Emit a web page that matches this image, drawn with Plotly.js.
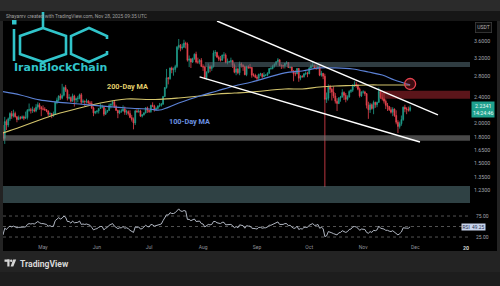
<!DOCTYPE html>
<html><head><meta charset="utf-8">
<script src="https://cdn.plot.ly/plotly-3.0.1.min.js"></script>
<style>html,body{margin:0;padding:0;background:#232323;overflow:hidden}#chart{width:500px;height:286px}</style>
</head><body><div id="chart"></div>
<script>
// ---------- DATA (XRP/USDT daily) ----------
const startDate = '2025-04-07';
const open = [
 1.75,1.87,1.79,2.02,1.97,2.06,2.14,2.10,2.14,2.09,2.05,2.08,2.07,2.09,2.07,2.08,2.19,2.20,2.19,2.20,2.18,2.24,2.28,2.24,
 2.21,2.21,2.20,2.18,2.13,2.14,2.11,2.13,2.32,2.36,2.43,2.39,2.44,2.58,2.53,2.39,2.40,2.34,2.43,2.36,2.38,2.39,2.45,2.32,2.34,2.33,2.34,2.31,2.30,2.23,2.15,
 2.17,2.18,2.22,2.24,2.24,2.13,2.17,2.19,2.27,2.29,2.33,2.25,2.19,2.15,2.18,2.18,2.21,2.16,2.17,2.14,2.08,2.05,2.00,2.18,2.17,2.18,2.10,2.12,2.15,2.23,
 2.19,2.17,2.27,2.26,2.21,2.22,2.26,2.27,2.29,2.42,2.58,2.77,2.75,2.97,2.93,2.94,3.00,3.45,3.50,3.43,3.45,3.55,3.53,3.14,3.17,3.10,3.18,3.28,3.10,3.10,3.14,
 3.00,2.99,2.77,2.88,3.00,2.96,3.00,3.31,3.32,3.21,3.17,3.14,3.26,3.26,3.09,3.10,3.11,3.13,3.03,2.88,2.95,2.87,3.06,3.03,3.00,2.83,3.00,2.98,2.98,2.82,2.82,
 2.78,2.76,2.84,2.85,2.79,2.82,2.82,2.86,2.96,2.96,3.01,3.05,3.11,3.15,3.02,3.02,3.02,3.07,3.09,2.98,2.99,2.91,2.85,2.85,2.96,2.76,2.80,2.79,2.85,2.86,
 2.85,2.97,3.02,3.03,2.97,2.96,3.00,2.82,2.86,2.80,2.37,2.39,2.59,2.55,2.50,2.43,2.34,2.30,2.39,2.41,2.49,2.44,2.37,2.41,2.51,2.53,2.63,2.64,2.62,2.55,2.43,
 2.50,2.50,2.47,2.27,2.20,2.28,2.22,2.32,2.28,2.32,2.51,2.40,2.38,2.34,2.27,2.25,2.20,2.16,2.21,2.11,2.01,1.95,1.99,2.05,2.24,2.21,2.21,2.19
];
const high = [
 1.93,1.97,2.09,2.05,2.08,2.16,2.18,2.20,2.17,2.10,2.11,2.10,2.11,2.11,2.17,2.21,2.30,2.23,2.25,2.23,2.29,2.32,2.31,2.26,
 2.27,2.24,2.21,2.19,2.16,2.15,2.17,2.33,2.40,2.44,2.47,2.65,2.60,2.63,2.55,2.46,2.42,2.47,2.45,2.40,2.43,2.47,2.48,2.37,2.35,2.38,2.36,2.34,2.34,2.25,2.18,
 2.19,2.22,2.30,2.28,2.26,2.22,2.19,2.30,2.30,2.35,2.34,2.28,2.20,2.20,2.21,2.27,2.25,2.20,2.19,2.19,2.12,2.08,2.20,2.22,2.21,2.20,2.13,2.16,2.24,2.25,
 2.20,2.28,2.32,2.28,2.24,2.27,2.31,2.31,2.43,2.59,2.95,2.78,2.98,3.00,2.98,3.04,3.48,3.66,3.53,3.54,3.64,3.59,3.57,3.25,3.19,3.20,3.30,3.34,3.20,3.17,3.19,
 3.05,3.02,2.90,3.07,3.03,3.03,3.37,3.38,3.34,3.25,3.24,3.27,3.33,3.30,3.18,3.13,3.20,3.15,3.07,3.00,2.98,3.11,3.09,3.05,3.02,3.02,3.03,3.06,2.99,2.86,2.85,
 2.82,2.85,2.87,2.86,2.88,2.84,2.88,2.95,3.00,3.04,3.07,3.11,3.19,3.16,3.05,3.04,3.08,3.12,3.10,3.00,3.00,2.92,2.92,2.97,2.97,2.82,2.82,2.86,2.90,2.89,
 2.99,3.05,3.10,3.04,3.04,3.03,3.02,2.91,2.86,2.85,2.49,2.64,2.63,2.58,2.60,2.48,2.39,2.41,2.43,2.55,2.51,2.48,2.44,2.53,2.55,2.64,2.70,2.69,2.65,2.58,2.51,
 2.53,2.52,2.48,2.33,2.31,2.30,2.35,2.33,2.33,2.58,2.54,2.48,2.50,2.37,2.31,2.26,2.24,2.24,2.22,2.19,2.04,2.02,2.11,2.25,2.28,2.24,2.25,2.27
];
const low = [
 1.61,1.76,1.72,1.90,1.94,2.03,2.06,2.08,2.08,2.01,2.04,2.05,2.06,2.04,2.06,2.05,2.17,2.14,2.15,2.16,2.16,2.20,2.20,2.10,
 2.19,2.18,2.16,2.10,2.09,2.07,2.09,2.12,2.29,2.33,2.36,2.37,2.42,2.50,2.35,2.37,2.32,2.33,2.25,2.30,2.32,2.37,2.29,2.31,2.26,2.30,2.28,2.27,2.21,2.10,2.13,
 2.14,2.14,2.21,2.22,2.10,2.12,2.15,2.18,2.22,2.26,2.23,2.18,2.07,2.13,2.15,2.17,2.12,2.12,2.11,2.07,2.02,1.91,1.97,2.15,2.15,2.09,2.08,2.11,2.14,2.15,
 2.15,2.15,2.24,2.17,2.19,2.21,2.24,2.25,2.28,2.41,2.56,2.64,2.73,2.86,2.81,2.88,2.97,3.39,3.35,3.39,3.43,3.42,3.11,2.99,2.97,3.08,3.15,3.07,3.06,3.05,3.00,
 2.91,2.74,2.73,2.86,2.88,2.91,2.98,3.23,3.20,3.12,3.11,3.13,3.18,3.07,3.05,3.08,3.09,2.97,2.86,2.82,2.84,2.82,2.98,2.91,2.82,2.80,2.95,2.95,2.77,2.79,2.76,
 2.70,2.72,2.80,2.76,2.78,2.80,2.80,2.85,2.93,2.94,2.98,3.02,3.09,3.02,2.95,2.96,2.96,3.05,2.97,2.96,2.90,2.70,2.80,2.84,2.69,2.72,2.77,2.77,2.82,2.78,
 2.84,2.95,2.98,2.95,2.93,2.94,2.80,2.79,2.74,1.26,2.31,2.35,2.48,2.35,2.39,2.30,2.18,2.29,2.33,2.40,2.36,2.32,2.35,2.40,2.48,2.50,2.59,2.58,2.53,2.40,2.41,
 2.47,2.43,2.22,2.06,2.15,2.20,2.13,2.23,2.24,2.31,2.38,2.35,2.30,2.21,2.18,2.18,2.14,2.10,2.09,1.98,1.86,1.92,1.96,2.03,2.16,2.13,2.17,2.17
];
const close = [
 1.87,1.79,2.02,1.97,2.06,2.14,2.10,2.14,2.09,2.05,2.08,2.07,2.09,2.07,2.08,2.19,2.20,2.19,2.20,2.18,2.24,2.28,2.24,2.21,
 2.21,2.20,2.18,2.13,2.14,2.11,2.13,2.32,2.36,2.43,2.39,2.44,2.58,2.53,2.39,2.40,2.34,2.43,2.36,2.38,2.39,2.45,2.32,2.34,2.33,2.34,2.31,2.30,2.23,2.15,2.17,
 2.18,2.22,2.24,2.24,2.13,2.17,2.19,2.27,2.29,2.33,2.25,2.19,2.15,2.18,2.18,2.21,2.16,2.17,2.14,2.08,2.05,2.00,2.18,2.17,2.18,2.10,2.12,2.15,2.23,2.19,
 2.17,2.27,2.26,2.21,2.22,2.26,2.27,2.29,2.42,2.58,2.77,2.75,2.97,2.93,2.94,3.00,3.45,3.50,3.43,3.45,3.55,3.53,3.14,3.17,3.10,3.18,3.28,3.10,3.10,3.14,3.00,
 2.99,2.77,2.88,3.00,2.96,3.00,3.31,3.32,3.21,3.17,3.14,3.26,3.26,3.09,3.10,3.11,3.13,3.03,2.88,2.95,2.87,3.06,3.03,3.00,2.83,3.00,2.98,2.98,2.82,2.82,2.78,
 2.76,2.84,2.85,2.79,2.82,2.82,2.86,2.96,2.96,3.01,3.05,3.11,3.15,3.02,3.02,3.02,3.07,3.09,2.98,2.99,2.91,2.85,2.85,2.96,2.76,2.80,2.79,2.85,2.86,2.85,
 2.97,3.02,3.03,2.97,2.96,3.00,2.82,2.86,2.80,2.37,2.39,2.59,2.55,2.50,2.43,2.34,2.30,2.39,2.41,2.49,2.44,2.37,2.41,2.51,2.53,2.63,2.64,2.62,2.55,2.43,2.50,
 2.50,2.47,2.27,2.20,2.28,2.22,2.32,2.28,2.32,2.51,2.40,2.38,2.34,2.27,2.25,2.20,2.16,2.21,2.11,2.01,1.95,1.99,2.05,2.24,2.21,2.21,2.19,2.2341
];
const rsi = [
 33,30,46,43,48,51,49,51,49,47,48,48,49,48,49,55,57,56,57,56,59,62,59,57,
 57,56,55,51,52,50,51,64,67,71,68,70,75,72,62,62,58,63,59,60,60,63,55,56,55,56,54,53,48,42,44,
 45,48,50,50,42,46,48,53,55,57,51,47,45,47,47,50,46,47,45,41,39,36,49,48,49,44,45,48,53,50,
 49,55,54,51,52,54,55,56,64,71,78,77,83,81,81,83,89,92,87,86,88,87,67,67,64,66,68,62,62,63,57,
 56,49,52,55,54,55,62,62,59,58,57,60,60,54,54,55,55,52,47,50,47,54,53,52,46,52,51,51,46,46,45,
 44,48,48,46,47,47,49,53,53,55,57,59,61,55,55,55,57,57,52,53,49,46,46,51,43,45,44,48,48,48,
 53,56,57,53,53,55,46,48,45,26,28,38,37,35,33,31,30,35,36,40,38,36,38,43,44,49,50,49,46,41,44,
 44,43,36,34,38,36,41,40,42,51,46,45,44,41,41,39,38,40,36,32,30,33,37,47,46,46,46,49.25
];
// Moving averages (read at sample dates)
const maDates = ['2025-04-08','2025-04-18','2025-04-29','2025-05-09','2025-05-22','2025-06-03','2025-06-18','2025-07-01','2025-07-07','2025-07-18','2025-07-30','2025-08-09','2025-08-19','2025-08-29','2025-09-17','2025-09-27','2025-10-07','2025-10-16','2025-10-26','2025-11-04','2025-11-12','2025-11-19','2025-11-28'];
const ma100 = [2.505,2.446,2.360,2.325,2.292,2.260,2.227,2.211,2.195,2.309,2.428,2.517,2.610,2.686,2.866,2.907,2.971,2.971,2.949,2.886,2.824,2.724,2.629];
const ma200 = [1.861,1.943,2.043,2.134,2.227,2.309,2.376,2.367,2.370,2.394,2.428,2.464,2.480,2.499,2.554,2.554,2.591,2.610,2.619,2.629,2.629,2.629,2.629];
// Zones
const zoneLow   = [1.76, 2.99, 2.38, 1.10];
const zoneHigh  = [1.83, 3.10, 2.52, 1.27];
const zoneStart = ['2025-04-07','2025-08-02','2025-11-10 19:00','2025-04-07'];
const zoneEnd   = '2026-01-03';
const zoneColor = ['rgba(125,125,125,0.58)','rgba(85,110,118,0.55)','rgba(165,38,48,0.55)','rgba(85,118,124,0.55)'];
// Trendlines
const upperLineX = ['2025-08-09','2025-12-14'];
const upperLineY = [4.166, 2.118];
const lowerLineX = ['2025-07-30','2025-12-03 16:00'];
const lowerLineY = [2.785, 1.744];
// Cross marker
const crossDate = ['2025-11-28'], crossPrice = [2.647];
// Axis ticks
const priceTicks = [3.6,3.2,2.8,2.4,2.0,1.8,1.65,1.5,1.35,1.23];
const priceTickText = ['3.6000','3.2000','2.8000','2.4000','2.0000','1.8000','1.6500','1.5000','1.3500','1.2300'];
const monthTicks = ['2025-05-01','2025-06-01','2025-07-01','2025-08-01','2025-09-01','2025-10-01','2025-11-01','2025-12-01'];
const monthLabels = ['May','Jun','Jul','Aug','Sep','Oct','Nov','Dec'];
const rsiLevels = [25,50,75];
const rsiTickVals = [25,75];
const rsiTickText = ['25.00','75.00'];

// ---------- helpers ----------
function dayList(start, n){
  const out=[]; const t0=Date.parse(start+'T00:00:00Z');
  for(let i=0;i<n;i++){ out.push(new Date(t0+i*86400000).toISOString().slice(0,10)); }
  return out;
}
const dates = dayList(startDate, close.length);
const W=500,H=286;
const px=x=>x/W, py=y=>1-y/H;
function rectP(x0,y0,x1,y1,fill,layer){return {type:'rect',xref:'paper',yref:'paper',x0:px(x0),x1:px(x1),y0:py(y1),y1:py(y0),fillcolor:fill,line:{width:0},layer:layer||'below'};}
function pathP(pts,closed,color,w){
  const d=pts.map((p,i)=>(i?'L':'M')+px(p[0]).toFixed(5)+','+py(p[1]).toFixed(5)).join(' ')+(closed?' Z':'');
  return {type:'path',xref:'paper',yref:'paper',path:d,line:{color:color,width:w},layer:'above'};
}
function fillP(pts,color){
  const d=pts.map((p,i)=>(i?'L':'M')+px(p[0]).toFixed(5)+','+py(p[1]).toFixed(5)).join(' ')+' Z';
  return {type:'path',xref:'paper',yref:'paper',path:d,fillcolor:color,line:{width:0},layer:'above'};
}

const UP='#1f9d8a', DOWN='#e8444f';
const traces = [
  {type:'candlestick', x:dates, open:open, high:high, low:low, close:close, xaxis:'x', yaxis:'y',
   increasing:{line:{color:UP,width:0.8},fillcolor:UP}, decreasing:{line:{color:DOWN,width:0.8},fillcolor:DOWN},
   whiskerwidth:0, hoverinfo:'skip'},
  {type:'scatter', mode:'lines', x:maDates, y:ma200, xaxis:'x', yaxis:'y', line:{color:'#d3c46c',width:1.1,shape:'spline'}, hoverinfo:'skip'},
  {type:'scatter', mode:'lines', x:maDates, y:ma100, xaxis:'x', yaxis:'y', line:{color:'#5c82d6',width:1.2,shape:'spline'}, hoverinfo:'skip'},
  {type:'scatter', mode:'lines', x:dates, y:rsi, xaxis:'x', yaxis:'y2', line:{color:'#c3c9d6',width:0.9}, hoverinfo:'skip'},
  {type:'scatter', mode:'markers', x:crossDate, y:crossPrice, xaxis:'x', yaxis:'y',
   marker:{symbol:'circle', size:11, color:'rgba(200,40,55,0.3)', line:{color:'#e5424f', width:1.3}}, hoverinfo:'skip'}
];

const shapes = [];
// frame / backgrounds
shapes.push(rectP(0,0,500,11,'#2b2b2b'));
shapes.push(rectP(0,11,500,21,'#161616'));
shapes.push(rectP(3,21,497,251,'#000000'));
shapes.push(rectP(0,272,500,286,'#1d1d1d'));
// RSI level dotted lines
rsiLevels.forEach(v=>shapes.push({type:'line',xref:'paper',yref:'y2',x0:px(3),x1:px(470),y0:v,y1:v,line:{color:'#6a6a6a',width:0.8,dash:'dot'},layer:'below'}));
// zones
zoneLow.forEach((lo,i)=>shapes.push({type:'rect',xref:'x',yref:'y',x0:zoneStart[i],x1:zoneEnd,y0:lo,y1:zoneHigh[i],fillcolor:zoneColor[i],line:{width:0},layer:'above'}));
// trendlines
shapes.push({type:'line',xref:'x',yref:'y',x0:upperLineX[0],x1:upperLineX[1],y0:upperLineY[0],y1:upperLineY[1],line:{color:'#ffffff',width:1.4},layer:'above'});
shapes.push({type:'line',xref:'x',yref:'y',x0:lowerLineX[0],x1:lowerLineX[1],y0:lowerLineY[0],y1:lowerLineY[1],line:{color:'#ffffff',width:1.4},layer:'above'});
// logo (IranBlockChain)
const CY='#31c4ca';
shapes.push(rectP(12,20,16.5,24.5,CY,'above'));
shapes.push(pathP([[14,29],[14,61]],false,CY,2.6));
shapes.push(pathP([[43,12],[43,28]],false,CY,2.6));
shapes.push(pathP([[43,28],[66,36],[66,54],[43,62],[20,54],[20,36]],true,CY,2.6));
shapes.push(pathP([[107,39],[107,36],[89,28],[71,36],[71,54],[89,62],[107,54],[107,51]],false,CY,2.6));
// TradingView logo glyph
shapes.push(rectP(4.5,259.5,9.5,261.8,'#d6d6d6','above'));
shapes.push(rectP(7.3,259.5,9.5,266.5,'#d6d6d6','above'));
shapes.push({type:'circle',xref:'paper',yref:'paper',x0:px(10),x1:px(12.4),y0:py(262),y1:py(259.6),fillcolor:'#d6d6d6',line:{width:0},layer:'above'});
shapes.push(fillP([[13.2,259.5],[16.2,259.5],[13.3,266.5],[10.6,266.5]],'#d6d6d6'));

const FONT='Roboto, "Open Sans", sans-serif';
const ann = [];
function A(x,y,text,opt){ann.push(Object.assign({xref:'paper',yref:'paper',x:px(x),y:py(y),text:text,showarrow:false,xanchor:'left',yanchor:'middle',font:{family:FONT,size:5,color:'#9b9b9b'}},opt||{}));}
A(4,16,'Shayanrv created with TradingView.com, Nov 28, 2025 09:35 UTC',{font:{family:FONT,size:4.9,color:'#a0a0a0'}});
A(60,67.5,'<b>IranBlockChain</b>',{xanchor:'center',font:{family:'DejaVu Sans, sans-serif',size:11,color:CY}});
A(127,86.5,'<b>200-Day MA</b>',{xanchor:'center',font:{family:FONT,size:7.3,color:'#e3d06c'}});
A(189.5,121,'<b>100-Day MA</b>',{xanchor:'center',font:{family:FONT,size:7.3,color:'#6b92e2'}});
A(483.5,27.5,'USDT',{xanchor:'center',bgcolor:'#0b0b0b',bordercolor:'#3c3c3c',borderwidth:0.8,borderpad:1.5,font:{family:FONT,size:5,color:'#b5b5b5'}});
A(482.5,110,'2.2341<br>14:24:46',{xanchor:'center',bgcolor:'#1ea08e',borderpad:1,font:{family:FONT,size:5.3,color:'#eafaf6'}});
A(473.5,226.6,'RSI  49.25',{xanchor:'center',bgcolor:'#c7d3ec',borderpad:0.6,font:{family:FONT,size:4.8,color:'#1d2b4a'}});
A(466,247.5,'<b>20</b>',{xanchor:'center',font:{family:FONT,size:5.3,color:'#d0d0d0'}});
A(18,263.5,'<b>TradingView</b>',{font:{family:FONT,size:8.6,color:'#d8d8d8'}});

const layout = {
  width:W, height:H, margin:{l:0,r:0,t:0,b:0}, autosize:false,
  paper_bgcolor:'#232323', plot_bgcolor:'rgba(0,0,0,0)', showlegend:false,
  font:{family:FONT,color:'#9b9b9b'},
  xaxis:{type:'date', domain:[px(3),px(470)], anchor:'y2', range:['2025-04-08','2026-01-01 10:00'],
         rangeslider:{visible:false}, showgrid:false, zeroline:false, showline:false, ticks:'',
         tickmode:'array', tickvals:monthTicks, ticktext:monthLabels, tickfont:{family:FONT,size:5,color:'#8e9099'}},
  yaxis:{type:'log', domain:[py(203),py(21)], range:[Math.log10(1.124),Math.log10(4.166)], side:'right', anchor:'free', position:px(470),
         showgrid:false, zeroline:false, showline:false, ticks:'', tickmode:'array', tickvals:priceTicks, ticktext:priceTickText,
         tickfont:{family:FONT,size:5.3,color:'#a3a6ae'}, ticklabelstandoff:3},
  yaxis2:{domain:[py(243),py(203)], range:[10.8,106], side:'right', anchor:'free', position:px(470),
         showgrid:false, zeroline:false, showline:false, ticks:'', tickmode:'array', tickvals:rsiTickVals, ticktext:rsiTickText,
         tickfont:{family:FONT,size:5,color:'#a3a6ae'}, ticklabelstandoff:5},
  shapes:shapes, annotations:ann
};
Plotly.newPlot('chart', traces, layout, {displayModeBar:false, staticPlot:true});
</script></body></html>
